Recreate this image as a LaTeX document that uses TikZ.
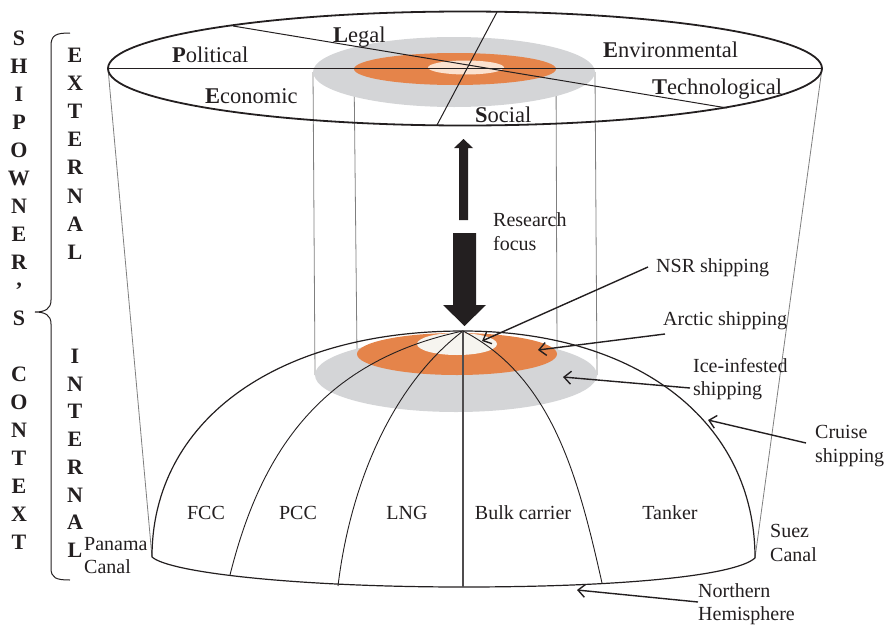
\documentclass[tikz,border=0pt]{standalone}
\usepackage{fontspec}
\setmainfont{Liberation Serif}
\usetikzlibrary{arrows.meta}
\definecolor{ringorange}{HTML}{E5844A}
\definecolor{ringgray}{HTML}{D4D5D7}
\definecolor{corepeach}{HTML}{FBE2D0}
\definecolor{corewhite}{HTML}{F6F4EF}
\definecolor{ink}{HTML}{231F20}
\definecolor{wirecol}{HTML}{7F7F7F}

\begin{document}
\begin{tikzpicture}[x=1pt,y=-1pt,
  pestlbl/.style={anchor=base west, inner sep=0pt, text=ink, font=\fontsize{22.5}{26}\selectfont},
  lbl/.style={anchor=base west, inner sep=0pt, text=ink, font=\fontsize{20}{24}\selectfont},
  seglbl/.style={anchor=base, inner sep=0pt, text=ink, font=\fontsize{20}{24}\selectfont},
  sidelbl/.style={anchor=base, inner sep=0pt, text=ink, font=\bfseries\fontsize{22}{24}\selectfont},
  ptr/.style={draw=ink, line width=1.4pt, -{Straight Barb[length=7pt,width=13pt,line width=1.4pt]}},
  wire/.style={draw=wirecol, line width=0.8pt},
  merid/.style={draw=ink, line width=0.9pt},
  rim/.style={draw=ink, line width=1.2pt},
  bigarrow/.style={fill=ink, draw=none}
]
\useasboundingbox (0,0) rectangle (886,624);

% ---------- key points ----------
\coordinate (topc) at (465,68.5);
\coordinate (apex) at (463,331);
\coordinate (pl) at (152,557);
\coordinate (ps) at (755,558);
\coordinate (b1) at (230,575);
\coordinate (b2) at (338,586);
\coordinate (b3) at (463,587);
\coordinate (b4) at (602,583);

% ---------- cylinder walls ----------
\draw[wire] (108,68.5) -- (pl);
\draw[wire] (822,68.5) -- (ps);
\draw[wire] (313,72) -- (315,375);
\draw[wire] (354,69) -- (357,354);
\draw[wire] (556,69) -- (557,354);
\draw[wire] (595,72) -- (597,375);

% ---------- upper disc (PESTLE) ----------
\fill[ringgray] (454,72) ellipse [x radius=141, y radius=35];
\fill[ringorange] (455,69) ellipse [x radius=101, y radius=16];
\fill[corepeach] (466,67.5) ellipse [x radius=38, y radius=7];
\draw[draw=ink, line width=1pt] (108,68.5) -- (822,68.5);
\draw[draw=ink, line width=1pt] (233,26) -- (727,108);
\draw[draw=ink, line width=1pt] (497,12) -- (437,125);
\draw[draw=ink, line width=1.8pt] (topc) ellipse [x radius=357, y radius=57];

\node[pestlbl] (pol) at (172,62) {\textbf{P}olitical};
\node[pestlbl] (leg) at (333,42) {\textbf{L}egal};
\node[pestlbl] (eco) at (205,103) {\textbf{E}conomic};
\node[pestlbl] (soc) at (475,122) {\textbf{S}ocial};
\node[pestlbl] (env) at (603,57) {\textbf{E}nvironmental};
\node[pestlbl] (tec) at (652,94) {\textbf{T}echnological};

% ---------- dome (northern hemisphere) ----------
\fill[ringgray] (456,375) ellipse [x radius=141, y radius=37];
\fill[ringorange] (457,354) ellipse [x radius=100, y radius=21];
\fill[corewhite] (457,344) ellipse [x radius=40, y radius=11];

\draw[rim] (apex) .. controls (276,331) and (152,421) .. (pl);
\draw[rim] (apex) .. controls (638,331) and (755,422) .. (ps);
\draw[rim] (pl) .. controls (170,573) and (300,587) .. (b3)
                .. controls (620,587) and (735,576) .. (ps);
\draw[merid] (apex) .. controls (316,362) and (259,459) .. (b1);
\draw[merid] (apex) .. controls (391,386) and (350,486) .. (b2);
\draw[draw=ink!80, line width=1.3pt] (apex) -- (b3);
\draw[merid] (apex) .. controls (552,377) and (578,476) .. (b4);

\node[seglbl] (fcc) at (206,519) {FCC};
\node[seglbl] (pcc) at (298,519) {PCC};
\node[seglbl] (lng) at (407,519) {LNG};
\node[seglbl] (bulk) at (523,519) {Bulk carrier};
\node[seglbl] (tank) at (670,519) {Tanker};

% ---------- research focus arrows ----------
\fill[bigarrow] (459,220) -- (459,148) -- (454,148) -- (463.5,139) -- (473,148)
  -- (468,148) -- (468,220) -- cycle;
\fill[bigarrow] (453,233) -- (453,305) -- (443,305) -- (464.5,326) -- (486,305)
  -- (476,305) -- (476,233) -- cycle;
\node[lbl] (res) at (493,226) {Research};
\node[lbl] (foc) at (493,250) {focus};

% ---------- pointer labels ----------
\node[lbl] (nsr) at (656,272) {NSR shipping};
\node[lbl] (arc) at (663,325) {Arctic shipping};
\node[lbl] (ice1) at (693,372) {Ice-infested};
\node[lbl] (ice2) at (693,395) {shipping};
\node[lbl] (cru1) at (815,438) {Cruise};
\node[lbl] (cru2) at (815,462) {shipping};
\node[lbl] (suez1) at (770,537) {Suez};
\node[lbl] (suez2) at (770,561) {Canal};
\node[lbl] (nor1) at (698,597) {Northern};
\node[lbl] (nor2) at (698,620) {Hemisphere};
\node[lbl] (pan1) at (84,550) {Panama};
\node[lbl] (pan2) at (84,573) {Canal};

\coordinate (nsrtip) at (482,341);
\coordinate (arctip) at (538,350);
\coordinate (icetip) at (563,377);
\coordinate (crutip) at (708,420);
\coordinate (nortip) at (577,590);
\draw[ptr] (648,267) -- (nsrtip);
\draw[ptr] (665,334) -- (arctip);
\draw[ptr] (690,388) -- (icetip);
\draw[ptr] (806,443) -- (crutip);
\draw[ptr] (698,602) -- (nortip);

% ---------- side captions ----------
\foreach \ch [count=\i from 0] in {S,H,I,P,O,W,N,E,R,{'},S,{},C,O,N,T,E,X,T}
  \node[sidelbl] (own\i) at (19,{38+28*\i+7.5}) {\ch};
\foreach \ch [count=\i from 0] in {E,X,T,E,R,N,A,L}
  \node[sidelbl] (ext\i) at (75,{54.5+28.2*\i+7.5}) {\ch};
\foreach \ch [count=\i from 0] in {I,N,T,E,R,N,A,L}
  \node[sidelbl] (int\i) at (75,{356+27.7*\i+7.5}) {\ch};

\draw[draw=ink, line width=1pt]
  (70,33) .. controls (56,33) and (51,35) .. (51,46) -- (51,300)
  .. controls (51,309) and (45,312) .. (35,312)
  .. controls (45,312) and (51,315) .. (51,324) -- (51,568)
  .. controls (51,578) and (56,580) .. (70,580);
\end{tikzpicture}
\end{document}
